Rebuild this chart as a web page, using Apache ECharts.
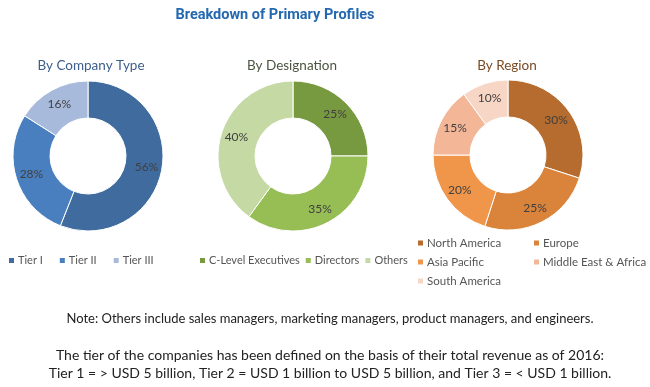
<!DOCTYPE html>
<html><head><meta charset="utf-8">
<script src="https://cdn.jsdelivr.net/npm/echarts@6/dist/echarts.min.js"></script>
<style>html,body{margin:0;padding:0;background:#fff}#c{width:650px;height:387px}</style>
</head><body><div id="c"></div>
<script>
const tierNames = ['Tier I', 'Tier II', 'Tier III'];
const tierValues = [56, 28, 16];
const desigNames = ['C-Level Executives', 'Directors', 'Others'];
const desigValues = [25, 35, 40];
const regionNames = ['North America', 'Europe', 'Asia Pacific', 'Middle East & Africa', 'South America'];
const regionValues = [30, 25, 20, 15, 10];

const tierColors = ['#3f6b9f', '#4a7fbf', '#a8badb'];
const desigColors = ['#77993f', '#97bd55', '#c4d9a3'];
const regionColors = ['#b56c2e', '#da833b', '#f0964a', '#f3b696', '#f8d6c6'];

const font = 'Lato, "Open Sans", sans-serif';
function mk(names, vals, colors) { return names.map((n, i) => ({ name: n, value: vals[i], itemStyle: { color: colors[i] } })); }
function pie(center, names, vals, colors) {
  return {
    type: 'pie', center: center, radius: [38, 75], startAngle: 90, clockwise: true,
    avoidLabelOverlap: false, silent: true,
    itemStyle: { borderColor: '#fff', borderWidth: 1 },
    label: { show: true, position: 'inside', formatter: '{c}%', color: '#404040', fontSize: 12, fontFamily: font },
    labelLine: { show: false },
    data: mk(names, vals, colors)
  };
}
const lts = { color: '#555', fontSize: 11, fontFamily: font, padding: [0, 0, 0, -2] };
const rts = { color: '#555', fontSize: 11.5, fontFamily: font, padding: [0, 0, 0, -2] };
const legendBase = { icon: 'rect', itemWidth: 7, itemHeight: 7, itemGap: 10, textStyle: lts };
const chart = echarts.init(document.getElementById('c'), null, { renderer: 'canvas' });
chart.setOption({
  animation: false,
  backgroundColor: '#fff',
  title: [
    { text: 'Breakdown of Primary Profiles', left: 270, top: 3, textAlign: 'center', textStyle: { fontFamily: '"Liberation Sans Narrow", "Roboto", sans-serif', fontWeight: 'bold', fontSize: 14.5, color: '#2468b0' } },
    { text: 'By Company Type', left: 86, top: 54, textAlign: 'center', textStyle: { fontFamily: font, fontWeight: 'normal', fontSize: 13.5, color: '#3d5f8c' } },
    { text: 'By Designation', left: 287, top: 54, textAlign: 'center', textStyle: { fontFamily: font, fontWeight: 'normal', fontSize: 13.5, color: '#4b5640' } },
    { text: 'By Region', left: 502, top: 54, textAlign: 'center', textStyle: { fontFamily: font, fontWeight: 'normal', fontSize: 13.5, color: '#7a4a22' } },
    { text: 'Note: Others include sales managers, marketing managers, product managers, and engineers.', left: 325, top: 307, textAlign: 'center', textStyle: { fontFamily: font, fontWeight: 'normal', fontSize: 13, color: '#222' } },
    { text: 'The tier of the companies has been defined on the basis of their total revenue as of 2016:\nTier 1 = > USD 5 billion, Tier 2 = USD 1 billion to USD 5 billion, and Tier 3 = < USD 1 billion.', left: 325, top: 341, textAlign: 'center', textStyle: { fontFamily: font, fontWeight: 'normal', fontSize: 14, lineHeight: 18, color: '#222' } }
  ],
  legend: [
    Object.assign({}, legendBase, { data: tierNames, left: 2, top: 250, itemGap: 15 }),
    Object.assign({}, legendBase, { data: desigNames, left: 193, top: 250, itemGap: 4 }),
    Object.assign({}, legendBase, { data: [regionNames[0], regionNames[2], regionNames[4]], left: 411, top: 232, orient: 'vertical', itemGap: 7, textStyle: rts }),
    Object.assign({}, legendBase, { data: [regionNames[1], regionNames[3]], left: 527, top: 232, orient: 'vertical', itemGap: 7, textStyle: rts })
  ],
  series: [
    pie([88, 156], tierNames, tierValues, tierColors),
    pie([293, 156], desigNames, desigValues, desigColors),
    pie([508, 155], regionNames, regionValues, regionColors)
  ]
});
</script></body></html>
